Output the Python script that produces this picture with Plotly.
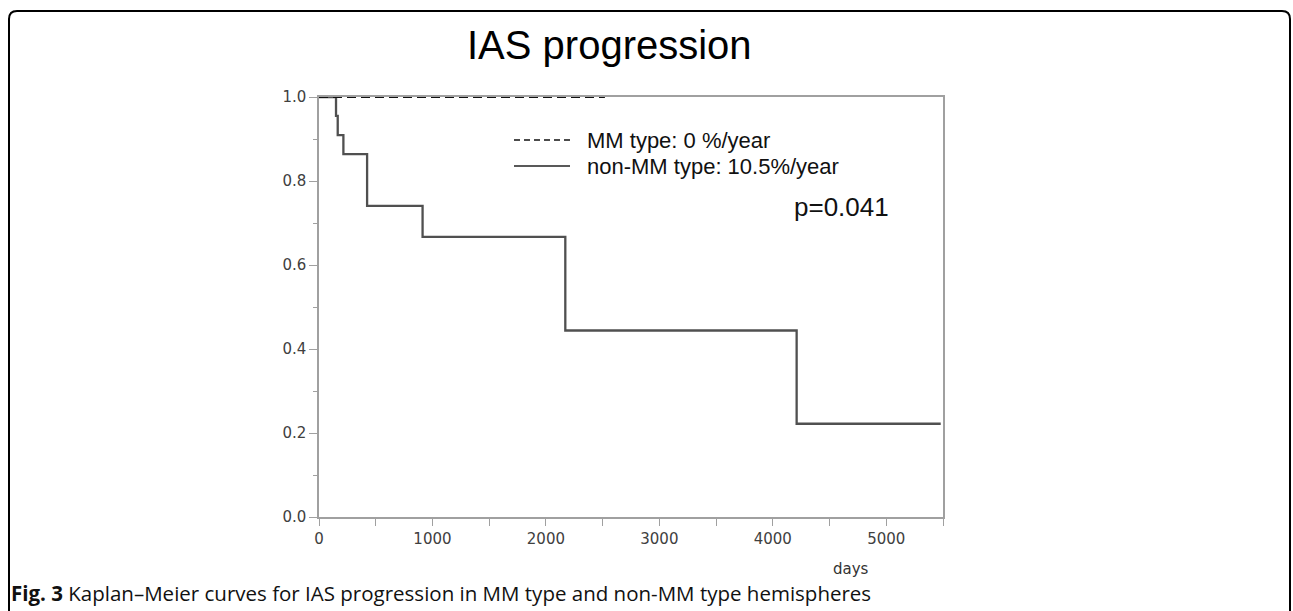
import plotly.graph_objects as go

# ---- data ----
mm_days = [0, 2520]
mm_surv = [1.0, 1.0]
nonmm_days = [0, 150, 165, 215, 424, 913, 2171, 4210, 5480]
nonmm_surv = [1.0, 0.955, 0.909, 0.864, 0.741, 0.667, 0.444, 0.222, 0.222]
series_names = ["MM type: 0 %/year", "non-MM type: 10.5%/year"]
x_tickvals = [0, 500, 1000, 1500, 2000, 2500, 3000, 3500, 4000, 4500, 5000, 5500]
x_ticktext = ["0", "", "1000", "", "2000", "", "3000", "", "4000", "", "5000", ""]
y_tickvals = [0.0, 0.2, 0.4, 0.6, 0.8, 1.0]
y_ticktext = ["0.0", "0.2", "0.4", "0.6", "0.8", "1.0"]
title_text = "IAS progression"
p_text = "p=0.041"
x_title = "days"
caption = "<b>Fig. 3</b> Kaplan\u2013Meier curves for IAS progression in MM type and non-MM type hemispheres"

W, H = 1293, 611
L, R, T, B = 319, 943, 97, 517


def px(x):
    return (x - L) / (R - L)


def py(y):
    return (B - y) / (B - T)


fig = go.Figure()
fig.add_trace(go.Scatter(x=nonmm_days, y=nonmm_surv, mode="lines", line_shape="hv",
                         line=dict(color="#505050", width=2.3), name=series_names[1],
                         cliponaxis=False, showlegend=False))
fig.add_trace(go.Scatter(x=mm_days, y=mm_surv, mode="lines", line_shape="hv",
                         line=dict(color="#111111", width=2, dash="9px,5px"), name=series_names[0],
                         cliponaxis=False, showlegend=False))

axis_col = "#a0a0a0"
tick_font = dict(family="DejaVu Sans", size=15, color="#404040")

fig.update_xaxes(range=[0, 5500], showline=True, linecolor=axis_col, linewidth=1.5, mirror=True,
                 showgrid=False, zeroline=False, ticks="outside", ticklen=7, tickcolor=axis_col,
                 tickwidth=1, tickmode="array", tickvals=x_tickvals, ticktext=x_ticktext,
                 tickfont=tick_font)
fig.update_yaxes(range=[0, 1], showline=True, linecolor=axis_col, linewidth=1.5, mirror=True,
                 showgrid=False, zeroline=False, ticks="outside", ticklen=8, tickcolor=axis_col,
                 tickwidth=1, tickmode="array", tickvals=y_tickvals, ticktext=y_ticktext,
                 tickfont=tick_font,
                 minor=dict(tickvals=[0.1, 0.3, 0.5, 0.7, 0.9], ticks="outside", ticklen=4,
                            tickcolor=axis_col, tickwidth=1))

leg_y1, leg_y2 = 140, 166
shapes = []
# legend samples
shapes.append(dict(type="line", xref="paper", yref="paper", x0=px(514), x1=px(570), y0=py(leg_y1), y1=py(leg_y1),
                   line=dict(color="#111111", width=1.3, dash="6px,4px")))
shapes.append(dict(type="line", xref="paper", yref="paper", x0=px(514), x1=px(570), y0=py(leg_y2), y1=py(leg_y2),
                   line=dict(color="#222222", width=1.6)))
# outer rounded frame
r = 8
lx, rx, ty, by = 9, 1290, 11, 640
path = (f"M {px(lx)} {py(by)} L {px(lx)} {py(ty + r)} Q {px(lx)} {py(ty)} {px(lx + r)} {py(ty)} "
        f"L {px(rx - r)} {py(ty)} Q {px(rx)} {py(ty)} {px(rx)} {py(ty + r)} L {px(rx)} {py(by)}")
shapes.append(dict(type="path", xref="paper", yref="paper", path=path, line=dict(color="#000000", width=2)))

annotations = [
    dict(text=title_text, xref="paper", yref="paper", x=px(609), y=py(45), showarrow=False,
         xanchor="center", yanchor="middle", font=dict(family="Liberation Sans", size=40, color="#000000")),
    dict(text=series_names[0], xref="paper", yref="paper", x=px(585), y=py(leg_y1), showarrow=False,
         xanchor="left", yanchor="middle", font=dict(family="Liberation Sans", size=22, color="#111111")),
    dict(text=series_names[1], xref="paper", yref="paper", x=px(585), y=py(leg_y2), showarrow=False,
         xanchor="left", yanchor="middle", font=dict(family="Liberation Sans", size=22, color="#111111")),
    dict(text=p_text, xref="paper", yref="paper", x=px(792), y=py(207), showarrow=False,
         xanchor="left", yanchor="middle", font=dict(family="Liberation Sans", size=26, color="#111111")),
    dict(text=x_title, xref="paper", yref="paper", x=px(831), y=py(569), showarrow=False,
         xanchor="left", yanchor="middle", font=dict(family="DejaVu Sans", size=15, color="#333333")),
    dict(text=caption, xref="paper", yref="paper", x=px(9), y=py(593), showarrow=False,
         xanchor="left", yanchor="middle", font=dict(family="Open Sans", size=20.5, color="#111111")),
]

fig.update_layout(width=W, height=H, margin=dict(l=L, r=W - R, t=T, b=H - B),
                  paper_bgcolor="white", plot_bgcolor="white", shapes=shapes,
                  annotations=annotations, showlegend=False)

fig.write_html("out.html", post_script="document.body.style.margin='0';",
               config={"displayModeBar": False})
